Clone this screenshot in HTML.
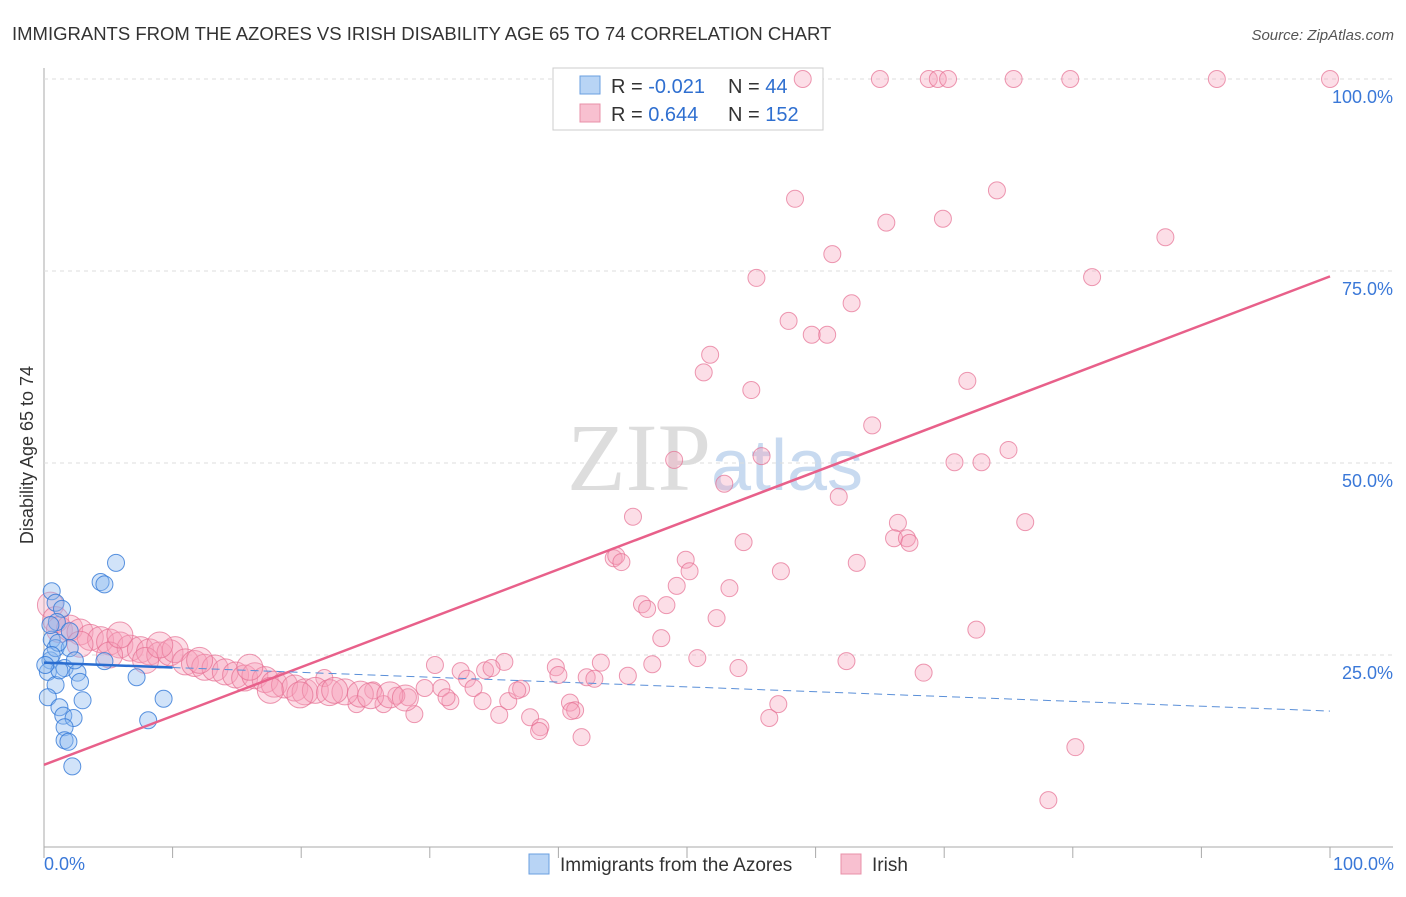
<!DOCTYPE html>
<html><head><meta charset="utf-8"><style>
body{margin:0;background:#fff;font-family:"Liberation Sans",sans-serif;}
</style></head><body>
<svg width="1406" height="892" xmlns="http://www.w3.org/2000/svg" id="chart" font-family="Liberation Sans, sans-serif">
<text x="12" y="40" font-size="18.5" fill="#333">IMMIGRANTS FROM THE AZORES VS IRISH DISABILITY AGE 65 TO 74 CORRELATION CHART</text>
<text x="1394" y="40" font-size="15" fill="#555" text-anchor="end" font-style="italic">Source: ZipAtlas.com</text>
<text x="715" y="490" font-size="96" fill="#ddd" text-anchor="middle" font-family="Liberation Serif, serif">ZIP<tspan fill="#c8daf0" font-family="Liberation Sans, sans-serif" font-size="72">atlas</tspan></text>
<text transform="translate(33,455) rotate(-90)" font-size="18" fill="#333" text-anchor="middle">Disability Age 65 to 74</text>
<g id="grid"></g>
<rect x="553" y="68" width="270" height="62" fill="#fff" stroke="#ccc"/>
<rect x="580" y="76" width="20" height="18" fill="#b8d4f5" stroke="#6a9fe0"/>
<rect x="580" y="104" width="20" height="18" fill="#f8c0d0" stroke="#e890a8"/>
<text x="611" y="93" font-size="20" fill="#333">R = <tspan fill="#2f6fd0">-0.021</tspan></text>
<text x="728" y="93" font-size="20" fill="#333">N = <tspan fill="#2f6fd0"> 44</tspan></text>
<text x="611" y="121" font-size="20" fill="#333">R = <tspan fill="#2f6fd0"> 0.644</tspan></text>
<text x="728" y="121" font-size="20" fill="#333">N = <tspan fill="#2f6fd0">152</tspan></text>
<g id="pts"></g><g id="lines"></g>
<text x="44" y="870" font-size="18" fill="#3a78d8">0.0%</text>
<text x="1394" y="870" font-size="18" fill="#3a78d8" text-anchor="end">100.0%</text>
<rect x="529" y="854" width="20" height="20" fill="#b8d4f5" stroke="#6a9fe0"/>
<text x="560" y="871" font-size="19" fill="#333">Immigrants from the Azores</text>
<rect x="841" y="854" width="20" height="20" fill="#f8c0d0" stroke="#e890a8"/>
<text x="872" y="871" font-size="19" fill="#333">Irish</text>
</svg>
<script>
const yTicks=[25,50,75,100];
const yTickLabels=["25.0%","50.0%","75.0%","100.0%"];
const blueX=[0.6,0.9,1.4,4.4,4.7,5.6,0.6,0.5,0.9,0.3,0.9,2.0,1.6,2.6,2.8,4.7,7.2,0.3,1.2,1.5,2.3,1.6,3.0,1.6,1.9,2.2,8.1,9.3,1.0,1.1,2.0,0.6,0.5,1.2,0.1,2.4];
const blueY=[33.3,31.8,31.0,34.5,34.2,37.0,27.0,24.3,25.9,22.8,21.1,25.9,23.3,22.7,21.5,24.2,22.1,19.5,18.2,17.1,16.8,15.6,19.1,13.9,13.7,10.5,16.5,19.3,29.3,26.6,28.1,25.0,28.9,23.0,23.7,24.3];
const pinkX=[59.0,65.0,68.8,69.5,70.3,75.4,79.8,91.2,100,58.4,74.1,65.5,69.9,87.2,61.3,55.4,81.5,62.8,57.9,59.7,60.9,51.8,51.3,55.0,71.8,64.4,49.0,55.8,70.8,72.9,75.0,52.9,61.8,45.8,66.4,76.3,66.1,67.1,67.3,54.4,44.3,44.5,44.9,49.9,50.2,57.3,63.2,49.2,53.3,46.5,46.9,48.4,52.3,48.0,72.5,50.8,54.0,62.4,68.4,56.4,57.1,80.2,78.1,43.3,47.3,45.4,39.8,40.0,42.2,42.8,35.8,34.3,34.8,32.4,30.4,32.9,33.4,30.9,31.6,31.3,34.1,36.1,37.1,36.8,35.4,37.8,38.6,38.5,40.9,41.3,41.0,41.8,28.8,28.3,29.6,24.3,26.4,27.4,25.6,21.8,
0.5,0.9,1.2,2.0,2.8,3.6,4.4,5.1,5.9,6.7,7.5,8.2,9.0,9.8,10.2,11.0,11.7,12.5,13.3,14.1,14.9,15.6,16.4,17.2,17.9,18.7,19.5,20.3,21.1,22.2,23.4,24.6,25.4,26.9,28.1,17.6,19.9,22.6,16.0,12.1,5.1,2.8,5.9,7.9,9.0];
const pinkY=[100,100,100,100,100,100,100,100,100,84.4,85.5,81.3,81.8,79.4,77.2,74.1,74.2,70.8,68.5,66.7,66.7,64.1,61.8,59.5,60.7,54.9,50.4,50.9,50.1,50.1,51.7,47.3,45.6,43.0,42.2,42.3,40.2,40.2,39.6,39.7,37.6,37.9,37.1,37.4,35.9,35.9,37.0,34.0,33.7,31.6,31.0,31.5,29.8,27.2,28.3,24.6,23.3,24.2,22.7,16.8,18.6,13.0,6.1,24.0,23.8,22.3,23.4,22.4,22.1,21.9,24.1,23.0,23.3,22.9,23.7,21.9,20.7,20.7,19.0,19.5,19.0,19.0,20.6,20.4,17.2,16.9,15.6,15.1,18.8,17.8,17.7,14.3,17.3,19.5,20.7,18.6,18.6,19.7,20.4,22.0,
31.5,29.6,28.3,28.5,28.0,27.3,27.0,26.7,26.3,25.9,25.7,25.4,25.0,25.3,25.7,24.1,23.9,23.4,23.3,22.8,22.4,22.0,22.3,21.8,21.2,21.1,20.7,20.2,20.4,20.1,20.2,19.9,19.7,19.8,19.4,20.4,19.8,20.4,23.4,24.3,25.0,26.4,27.6,24.3,26.3];
const pinkTrend=[10.7,74.3];
const blueTrend=[24.0,17.7];
const X0=44,X1=1330,Y0=847,Y1=79;
const sx=v=>X0+(X1-X0)*v/100, sy=v=>Y0-(Y0-Y1)*v/100;
const NS="http://www.w3.org/2000/svg";
function mk(t,a,p){const e=document.createElementNS(NS,t);for(const k in a)e.setAttribute(k,a[k]);document.getElementById(p).appendChild(e);return e;}
let e=mk('line',{x1:44,y1:68,x2:44,y2:847,stroke:'#aaa'},'grid');


e=mk('line',{x1:44,y1:847,x2:1393,y2:847,stroke:'#aaa'},'grid');


for(let i=0;i<=10;i++){const x=sx(i*10);e=mk('line',{x1:x,y1:847,x2:x,y2:858,stroke:'#aaa'},'grid');

}
yTicks.forEach((t,i)=>{const y=sy(t);e=mk('line',{x1:44,y1:y,x2:1393,y2:y,stroke:'#ddd','stroke-dasharray':'4 4'},'grid');


e=mk('text',{x:1393,y:y+24,'font-size':18,fill:'#3a78d8','text-anchor':'end'},'grid');e.textContent=yTickLabels[i];

});
pinkX.forEach((x,i)=>{const big=i>=100;e=mk('circle',{cx:sx(x),cy:sy(pinkY[i]),r:big?13:8.5,fill:'rgba(245,160,185,0.35)',stroke:'rgba(230,110,145,0.7)','stroke-width':1},'pts');

});
blueX.forEach((x,i)=>{e=mk('circle',{cx:sx(x),cy:sy(blueY[i]),r:8.5,fill:'rgba(140,185,240,0.4)',stroke:'rgba(50,120,215,0.8)','stroke-width':1},'pts');

});
e=mk('line',{x1:sx(0),y1:sy(pinkTrend[0]),x2:sx(100),y2:sy(pinkTrend[1]),stroke:'#e8608a','stroke-width':2.5},'lines');


const bAt=v=>blueTrend[0]+(blueTrend[1]-blueTrend[0])*v/100;
e=mk('line',{x1:sx(0),y1:sy(bAt(0)),x2:sx(10),y2:sy(bAt(10)),stroke:'#2a6dd0','stroke-width':2.5},'lines');


e=mk('line',{x1:sx(10),y1:sy(bAt(10)),x2:sx(100),y2:sy(bAt(100)),stroke:'#5a8fd8','stroke-width':1,'stroke-dasharray':'8 5'},'lines');


</script>
</body></html>
